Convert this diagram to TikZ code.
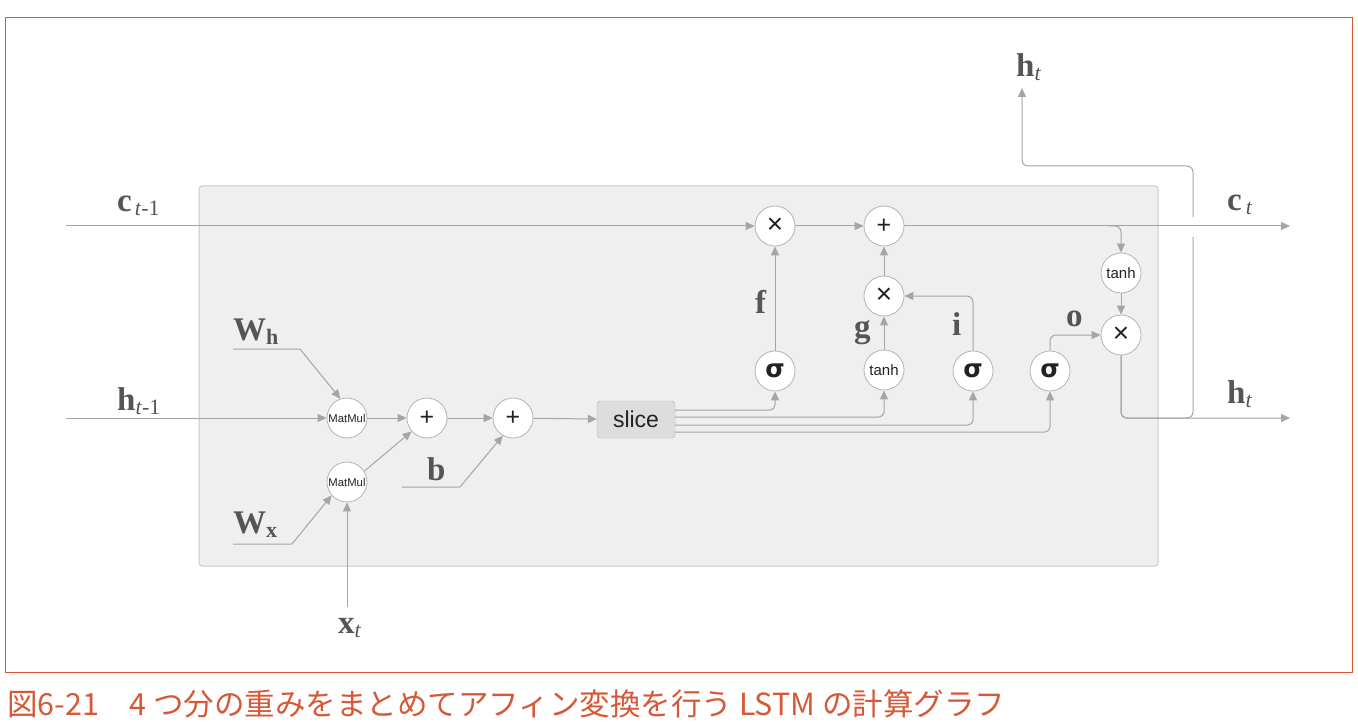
\documentclass[tikz,border=0pt]{standalone}
\usepackage{fontspec}
\setmainfont{Liberation Serif}
\newfontfamily\jpfont{Noto Sans CJK JP}
\newfontfamily\sansf{Liberation Sans}
\newfontfamily\sigf{DejaVu Sans}
\usetikzlibrary{arrows.meta}
\definecolor{framec}{RGB}{214,88,55}
\definecolor{lgray}{RGB}{165,165,165}
\definecolor{cgray}{RGB}{180,180,180}
\definecolor{boxfill}{RGB}{239,239,239}
\definecolor{boxdraw}{RGB}{200,200,200}
\definecolor{labc}{RGB}{85,85,85}
\definecolor{slicefill}{RGB}{221,221,221}
\definecolor{optext}{RGB}{34,34,34}
\newcommand{\lbl}[2]{\textbf{#1}\raisebox{-4pt}{\fontsize{22}{22}\selectfont#2}}
\newcommand{\opplus}{\raisebox{-2pt}{+}}
\newcommand{\optimes}{\raisebox{-1.5pt}{×}}
\begin{document}
\begin{tikzpicture}[x=1pt,y=-1pt,
  op/.style={circle,draw=cgray,fill=white,minimum size=40pt,inner sep=0pt,line width=0.8pt,text=optext},
  plusop/.style={op,font=\sansf\fontsize{25}{25}\selectfont},
  timesop/.style={op,font=\sansf\fontsize{28}{28}\selectfont},
  mmop/.style={op,font=\sansf\fontsize{11.3}{11.3}\selectfont},
  tanhop/.style={op,font=\sansf\fontsize{15}{15}\selectfont},
  sigop/.style={op,font=\sigf\bfseries\fontsize{25}{25}\selectfont},
  ln/.style={draw=lgray,line width=1pt},
  arr/.style={ln,-{Triangle[length=9pt,width=8pt]}},
  lab/.style={anchor=base west,inner sep=0pt,text=labc,font=\fontsize{33}{33}\selectfont}]
\useasboundingbox (0,0) rectangle (1358,722);
\draw[framec,line width=1pt] (5,18) rectangle (1352,672);
\node[anchor=west,inner sep=0pt,text=framec,font=\jpfont\fontsize{30.5}{30.5}\selectfont] (cap) at (7,704) {図6-21　4 つ分の重みをまとめてアフィン変換を行う LSTM の計算グラフ};
% gray box
\draw[fill=boxfill,draw=boxdraw,line width=1pt,rounded corners=3pt] (199,186) rectangle (1158,566);
% nodes
\node[mmop] (mm1) at (347,418) {MatMul};
\node[mmop] (mm2) at (347,482) {MatMul};
\node[plusop] (p1) at (427,418) {\opplus};
\node[plusop] (p2) at (513,418) {\opplus};
\node[draw=cgray,fill=slicefill,rounded corners=3pt,minimum width=78pt,minimum height=37pt,inner sep=0pt,font=\sansf\fontsize{23}{23}\selectfont,text=optext] (slice) at (636,419.5) {slice};
\node[sigop] (sigf) at (775,371) {σ};
\node[tanhop] (tanhg) at (884,370) {tanh};
\node[sigop] (sigi) at (973,371) {σ};
\node[sigop] (sigo) at (1050,371) {σ};
\node[timesop] (xf) at (775,226) {\optimes};
\node[plusop] (pc) at (884,226) {\opplus};
\node[timesop] (xg) at (884,296) {\optimes};
\node[tanhop] (tanhc) at (1121,273) {tanh};
\node[timesop] (xo) at (1121,335) {\optimes};
% coordinates
\coordinate (ctin) at (66,226);
\coordinate (ctout) at (1290,226);
\coordinate (cbr) at (1108,226);
\coordinate (htin) at (66,418);
\coordinate (htout) at (1290,418);
\coordinate (hturn) at (1193,418);
\coordinate (gapb) at (1193,237);
\coordinate (gapt) at (1193,217);
\coordinate (htc) at (1193,166);
\coordinate (htup) at (1022,88);
\coordinate (whs) at (233,349);
\coordinate (whk) at (300,349);
\coordinate (wxs) at (233,544);
\coordinate (wxk) at (292,544);
\coordinate (bs) at (402,487);
\coordinate (bk) at (460,487);
\coordinate (xts) at (347,607);
% h_t branch (drawn before c line to keep the gap)
\draw[ln,rounded corners=6pt] (xo.south) |- (hturn) -- (gapb);
\draw[arr,rounded corners=6pt] (gapt) -- (htc) -| (htup);
\draw[arr,rounded corners=6pt] (xo.south) |- (htout);
% c line
\draw[arr] (ctin) -- (xf);
\draw[arr] (xf) -- (pc);
\draw[arr] (pc) -- (ctout);
\draw[arr,rounded corners=6pt] (cbr) -| (tanhc.north);
\draw[arr] (tanhc) -- (xo);
% h input
\draw[arr] (htin) -- (mm1);
\draw[arr] (whs) -- (whk) -- (mm1.109);
\draw[arr] (wxs) -- (wxk) -- (mm2.221);
\draw[arr] (xts) -- (mm2);
\draw[arr] (mm1) -- (p1);
\draw[arr] (mm2.32) -- (p1.221);
\draw[arr] (bs) -- (bk) -- (p2.240);
\draw[arr] (p1) -- (p2);
\draw[arr] (p2) -- (slice);
% slice outputs
\draw[arr,rounded corners=5pt] ([yshift=9.5pt]slice.east) -| (sigf.south);
\draw[arr,rounded corners=5pt] ([yshift=2.5pt]slice.east) -| (tanhg.south);
\draw[arr,rounded corners=5pt] ([yshift=-5.5pt]slice.east) -| (sigi.south);
\draw[arr,rounded corners=5pt] ([yshift=-12.5pt]slice.east) -| (sigo.south);
% gates
\draw[arr] (sigf) -- (xf);
\draw[arr] (tanhg) -- (xg);
\draw[arr] (xg) -- (pc);
\draw[arr,rounded corners=6pt] (sigi.north) |- (xg.east);
\draw[arr,rounded corners=6pt] (sigo.north) |- (xo.west);
% labels
\node[lab] (lc1) at (117,212) {\lbl{c}{\kern3pt\textit{t}-1}};
\node[lab] (lh1) at (117,410) {\lbl{h}{\textit{t}-1}};
\node[lab] (lwh) at (233,340) {\lbl{W}{\textbf{h}}};
\node[lab] (lwx) at (233,533) {\lbl{W}{\textbf{x}}};
\node[lab] (lb) at (427,480) {\textbf{b}};
\node[lab] (lxt) at (338,633) {\lbl{x}{\textit{t}}};
\node[lab] (lf) at (755,313) {\textbf{f}};
\node[lab] (lg) at (854,337) {\textbf{g}};
\node[lab] (li) at (952,335) {\textbf{i}};
\node[lab] (lo) at (1066,326) {\textbf{o}};
\node[lab] (lct) at (1227,211) {\lbl{c}{\kern4pt\textit{t}}};
\node[lab] (lht) at (1227,403) {\lbl{h}{\textit{t}}};
\node[lab] (lhtop) at (1016,77) {\lbl{h}{\textit{t}}};
\end{tikzpicture}
\end{document}
